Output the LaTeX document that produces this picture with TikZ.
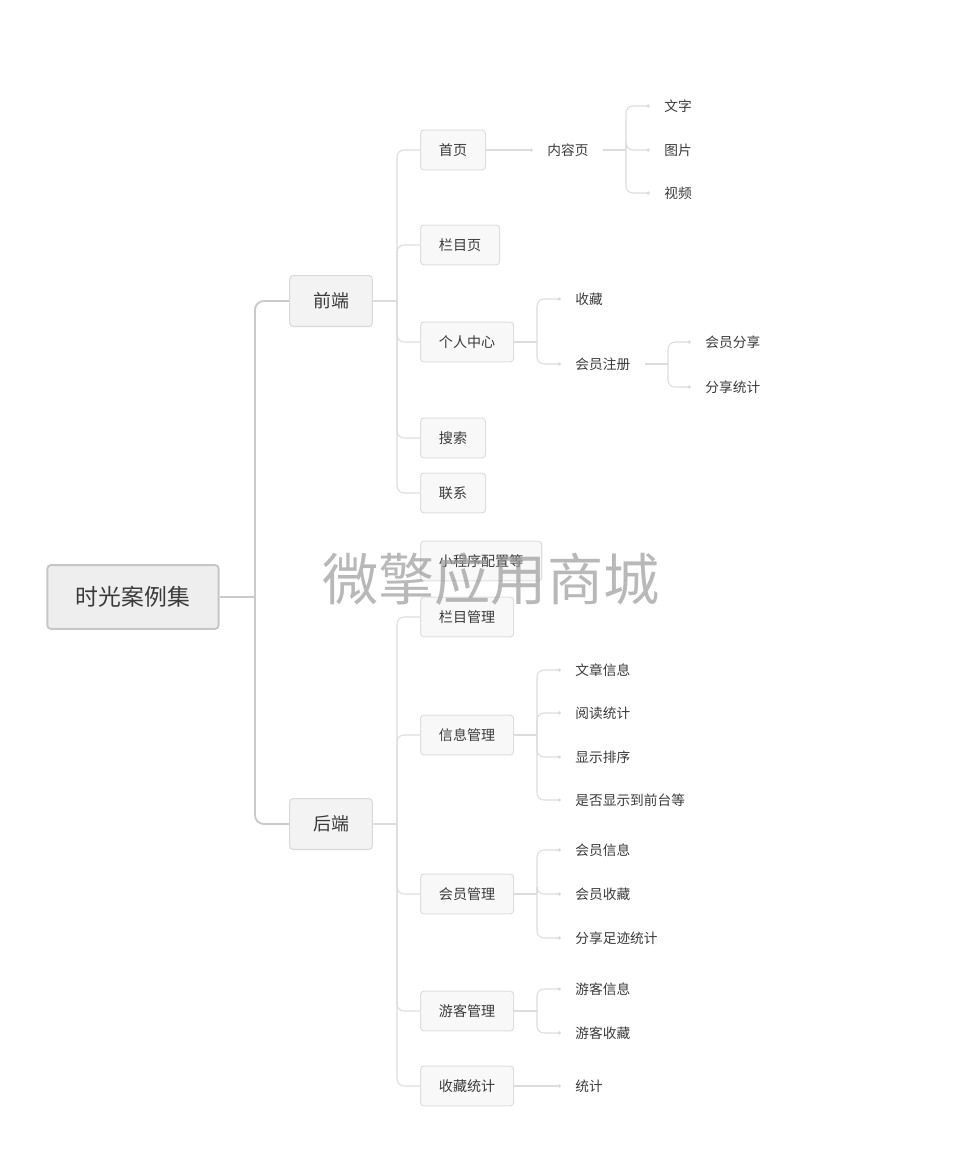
\documentclass[tikz,border=0pt]{standalone}
\usepackage{fontspec}
\newfontfamily\cjk{Noto Sans CJK SC}
\usepackage{xcolor}
\usepackage{tikz}
\usetikzlibrary{arrows.meta}
\definecolor{rootfill}{HTML}{EEEEEE}
\definecolor{rootdraw}{HTML}{C6C6C6}
\definecolor{mainfill}{HTML}{F3F3F3}
\definecolor{maindraw}{HTML}{D9D9D9}
\definecolor{subfill}{HTML}{F8F8F8}
\definecolor{subdraw}{HTML}{DEDEDE}
\definecolor{trunkline}{HTML}{CACACA}
\definecolor{branchline}{HTML}{DCDCDC}
\definecolor{textgray}{HTML}{3A3A3A}
\definecolor{markgray}{HTML}{9A9A9A}
\tikzstyle{rootbox} = [rectangle, rounded corners=2pt, draw=rootdraw, line width=1.1pt, fill=rootfill, text=textgray, minimum width=97.5pt, minimum height=36.3pt, font=\cjk\fontsize{13pt}{15pt}\selectfont]
\tikzstyle{mainbox} = [rectangle, rounded corners=2pt, draw=maindraw, line width=0.6pt, fill=mainfill, text=textgray, minimum width=47pt, minimum height=29pt, font=\cjk\fontsize{10.2pt}{12pt}\selectfont]
\tikzstyle{subbox} = [rectangle, rounded corners=2pt, draw=subdraw, line width=0.6pt, fill=subfill, text=textgray, anchor=west, inner xsep=10.5pt, minimum height=22.7pt, font=\cjk\fontsize{8pt}{10pt}\selectfont]
\tikzstyle{leaf} = [anchor=west, inner xsep=8pt, inner ysep=2pt, text=textgray, font=\cjk\fontsize{7.8pt}{9.5pt}\selectfont]
\tikzstyle{trunk} = [draw=trunkline, line width=1.1pt, rounded corners=5pt]
\tikzstyle{branch} = [draw=branchline, line width=0.6pt, rounded corners=4pt]
\tikzstyle{leafarrow} = [branch, -{Circle[length=2pt, fill=branchline]}]

\begin{document}
\begin{tikzpicture}[x=0.02cm, y=-0.02cm]
  \useasboundingbox (0, 0) rectangle (980, 1161);

  % Root
  \node[rootbox] (root) at (133, 597) {时光案例集};

  % First Layer
  \node[mainbox] (front) at (331, 301) {前端};
  \node[mainbox] (back) at (331, 824) {后端};

  \coordinate (root_j) at (255, 597);
  \draw[trunk] (root.east) -- (root_j);
  \draw[trunk] (root_j) |- (front.west);
  \draw[trunk] (root_j) |- (back.west);

  % Second Layer, front end
  \node[subbox] (home) at (420, 150) {首页};
  \node[subbox] (column) at (420, 245) {栏目页};
  \node[subbox] (personal) at (420, 342) {个人中心};
  \node[subbox] (search) at (420, 438) {搜索};
  \node[subbox] (contact) at (420, 493) {联系};
  \node[subbox] (config) at (420, 561) {小程序配置等};

  \coordinate (front_j) at (397, 301);
  \draw[branch] (front.east) -- (front_j);
  \foreach \n in {home, column, personal, search, contact}
    \draw[branch] (front_j) |- (\n.west);

  % Second Layer, back end
  \node[subbox] (col_mgr) at (420, 617) {栏目管理};
  \node[subbox] (info_mgr) at (420, 735) {信息管理};
  \node[subbox] (member_mgr) at (420, 894) {会员管理};
  \node[subbox] (guest_mgr) at (420, 1011) {游客管理};
  \node[subbox] (fav_stat) at (420, 1086) {收藏统计};

  \coordinate (back_j) at (397, 824);
  \draw[branch] (back.east) -- (back_j);
  \foreach \n in {col_mgr, info_mgr, member_mgr, guest_mgr, fav_stat}
    \draw[branch] (back_j) |- (\n.west);

  % Third Layer, home
  \node[leaf] (content) at (533, 150) {内容页};
  \draw[leafarrow] (home.east) -- (content.west);

  \node[leaf] (words) at (650, 106) {文字};
  \node[leaf] (picture) at (650, 150) {图片};
  \node[leaf] (video) at (650, 193) {视频};

  \coordinate (content_j) at (626, 150);
  \draw[branch] (content.east) -- (content_j);
  \foreach \n in {words, picture, video}
    \draw[leafarrow] (content_j) |- (\n.west);

  % Third Layer, personal center
  \node[leaf] (favorite) at (561, 299) {收藏};
  \node[leaf] (register) at (561, 364) {会员注册};

  \coordinate (personal_j) at (537, 342);
  \draw[branch] (personal.east) -- (personal_j);
  \foreach \n in {favorite, register}
    \draw[leafarrow] (personal_j) |- (\n.west);

  \node[leaf] (share) at (691, 342) {会员分享};
  \node[leaf] (share_stat) at (691, 387) {分享统计};

  \coordinate (register_j) at (668, 364);
  \draw[branch] (register.east) -- (register_j);
  \foreach \n in {share, share_stat}
    \draw[leafarrow] (register_j) |- (\n.west);

  % Third Layer, info management
  \node[leaf] (article) at (561, 670) {文章信息};
  \node[leaf] (read_stat) at (561, 713) {阅读统计};
  \node[leaf] (sort) at (561, 757) {显示排序};
  \node[leaf] (show_front) at (561, 800) {是否显示到前台等};

  \coordinate (info_j) at (537, 735);
  \draw[branch] (info_mgr.east) -- (info_j);
  \foreach \n in {article, read_stat, sort, show_front}
    \draw[leafarrow] (info_j) |- (\n.west);

  % Third Layer, member management
  \node[leaf] (member_info) at (561, 850) {会员信息};
  \node[leaf] (member_fav) at (561, 894) {会员收藏};
  \node[leaf] (trace_stat) at (561, 938) {分享足迹统计};

  \coordinate (member_j) at (537, 894);
  \draw[branch] (member_mgr.east) -- (member_j);
  \foreach \n in {member_info, member_fav, trace_stat}
    \draw[leafarrow] (member_j) |- (\n.west);

  % Third Layer, guest management
  \node[leaf] (guest_info) at (561, 989) {游客信息};
  \node[leaf] (guest_fav) at (561, 1033) {游客收藏};

  \coordinate (guest_j) at (537, 1011);
  \draw[branch] (guest_mgr.east) -- (guest_j);
  \foreach \n in {guest_info, guest_fav}
    \draw[leafarrow] (guest_j) |- (\n.west);

  % Third Layer, favorite statistics
  \node[leaf] (stat) at (561, 1086) {统计};
  \draw[leafarrow] (fav_stat.east) -- (stat.west);

  % Watermark
  \node[text=markgray, opacity=0.7, font=\cjk\fontsize{32pt}{38pt}\selectfont] (watermark) at (491, 579) {微擎应用商城};

\end{tikzpicture}
\end{document}
